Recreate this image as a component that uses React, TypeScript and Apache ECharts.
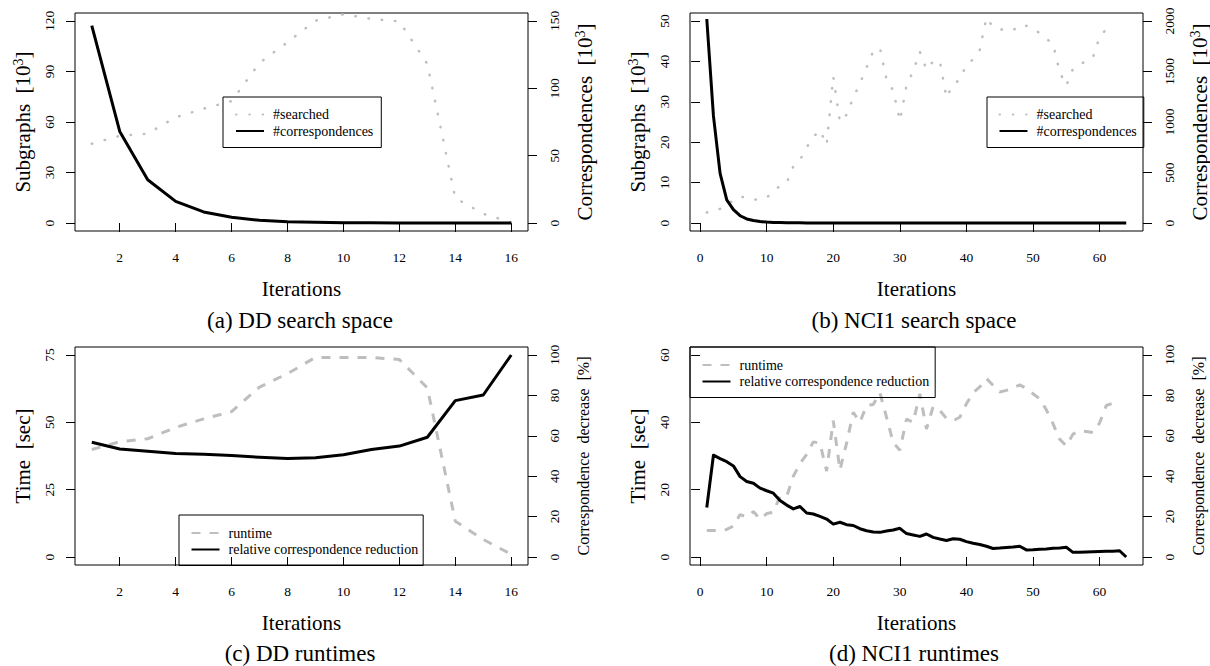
import React, { useEffect, useRef } from 'react';
import * as echarts from 'echarts';

const FONT = '"Liberation Serif", "Times New Roman", serif';
const CAP_FONT = '"Liberation Serif", "Times New Roman", serif';
const GREY = '#bebebe';
const BLACK = '#000000';

// ---- DD (16 iterations) ----
const searchedDD = [47.1, 51.8, 53.1, 62.8, 67.9, 72.4, 95.1, 107.4, 120.2, 124.0, 121.2, 119.8, 94.5, 14.8, 5.5, 0.4];
const corrDD = [146.5, 68, 32.1, 16.1, 8.2, 4.2, 2.0, 1.0, 0.5, 0.25, 0.12, 0.06, 0.03, 0.02, 0.01, 0];
const runtimeDD = [39.9, 42.8, 43.9, 48.1, 51.3, 54.0, 63.1, 68.1, 74.1, 74.1, 74.1, 73.3, 62.8, 13.3, 6.5, 1.0];
const reductionDD = [56.8, 53.5, 52.4, 51.2, 50.9, 50.2, 49.4, 48.8, 49.1, 50.6, 53.2, 54.9, 59.3, 77.4, 80.2, 100];

// ---- NCI1 (64 iterations) ----
const searchedNCI1 = [2.6, 3.0, 3.5, 4.5, 5.6, 6.6, 6.2, 5.7, 6.0, 6.3, 7.8, 9.2, 9.9, 14.0, 15.6, 18.7, 21.3, 23.0, 19.3, 36.2,
  25.0, 26.8, 31.0, 34.5, 38.5, 42.5, 43.3, 35.5, 32.8, 25.3, 34.0, 37.6, 42.4, 38.0, 40.0, 40.2, 31.0, 34.4, 35.4, 39.2,
  40.5, 42.8, 50.8, 48.5, 47.9, 47.8, 47.7, 49.0, 48.8, 48.1, 47.0, 45.6, 44.4, 37.4, 34.0, 38.2, 39.2, 40.1, 41.0, 46.0,
  48.0, 49.0];
const corrNCI1 = [2020, 1060, 492, 228, 132, 72, 40, 24, 14, 9, 6, 4, 3, 2.2, 1.6, 1.2, 1.0, 0.8, 0.7, 0.6,
  0.5, 0.4, 0.35, 0.3, 0.25, 0.2, 0.2, 0.15, 0.15, 0.1, 0.1, 0.1, 0.1, 0.1, 0.1, 0.1, 0.1, 0.1, 0.1, 0.1,
  0.1, 0.1, 0.1, 0.1, 0.1, 0.1, 0.1, 0.1, 0.1, 0.1, 0.1, 0.1, 0.1, 0.1, 0.1, 0.1, 0.1, 0.1, 0.1, 0.1,
  0.1, 0.1, 0.1, 0.1];
const runtimeNCI1 = [7.9, 7.9, 7.9, 8.2, 9.2, 12.6, 11.9, 13.5, 11.2, 12.9, 13.3, 18.0, 18.0, 24.0, 27.8, 30.5, 34.2, 33.8, 25.5, 40.5,
  25.8, 33.8, 43.0, 40.0, 45.0, 45.3, 48.8, 41.5, 34.0, 31.7, 41.0, 40.0, 48.5, 38.0, 44.7, 43.5, 41.2, 40.5, 41.5, 45.5,
  48.8, 50.5, 53.0, 51.0, 49.0, 49.5, 50.2, 51.1, 50.1, 48.5, 47.0, 43.7, 39.6, 35.0, 33.0, 36.5, 37.5, 37.3, 37.0, 39.8,
  45.0, 45.7, 45.3];
const reductionNCI1 = [24.5, 50.4, 48.7, 47.2, 45.1, 39.8, 37.4, 36.5, 34.1, 32.8, 31.6, 28.0, 25.7, 23.8, 25.0, 21.8, 21.3, 20.1, 18.8, 16.3,
  17.2, 16.0, 15.6, 14.0, 13.0, 12.4, 12.2, 12.9, 13.4, 14.2, 11.6, 10.9, 10.2, 11.4, 9.7, 8.9, 8.2, 9.0, 8.8, 7.6,
  6.8, 6.2, 5.3, 4.2, 4.4, 4.7, 4.9, 5.3, 3.5, 3.6, 3.8, 4.0, 4.3, 4.5, 4.8, 2.3, 2.4, 2.5, 2.6, 2.7,
  2.8, 2.9, 3.1, 0.0];

// ---- tick labels ----
const ticksXDD = [2, 4, 6, 8, 10, 12, 14, 16];
const ticksXNCI1 = [0, 10, 20, 30, 40, 50, 60];
const ticksSubgraphsDD = [0, 30, 60, 90, 120];
const ticksCorrDD = [0, 50, 100, 150];
const ticksSubgraphsNCI1 = [0, 10, 20, 30, 40, 50];
const ticksCorrNCI1 = [0, 500, 1000, 1500, 2000];
const ticksTimeDD = [0, 25, 50, 75];
const ticksTimeNCI1 = [0, 20, 40, 60];
const ticksPercent = [0, 20, 40, 60, 80, 100];

const captions = ['(a) DD search space', '(b) NCI1 search space', '(c) DD runtimes', '(d) NCI1 runtimes'];

const pairs = (vals: number[]) => vals.map((v, i) => [i + 1, v]);

const nameRich = {
  n: { fontFamily: FONT, fontSize: 21, color: BLACK, lineHeight: 24 },
  s: { fontFamily: FONT, fontSize: 14, color: BLACK, lineHeight: 14, verticalAlign: 'top' },
  m: { fontFamily: FONT, fontSize: 16, color: BLACK, lineHeight: 18 },
};

const plain = (v: number) => String(v);

function makeX(gridIndex: number, min: number, max: number, ticks: number[]) {
  return {
    type: 'value', gridIndex, min, max,
    name: 'Iterations', nameLocation: 'middle', nameGap: 47, nameMoveOverlap: false,
    nameTextStyle: { fontFamily: FONT, fontSize: 21, color: BLACK },
    axisLine: { show: false },
    axisTick: { show: true, length: 9, customValues: ticks, lineStyle: { color: BLACK, width: 1 } },
    axisLabel: { customValues: ticks, formatter: plain, fontFamily: FONT, fontSize: 13.5, color: BLACK, margin: 19 },
    splitLine: { show: false },
  };
}

function makeY(gridIndex: number, position: string, min: number, max: number, ticks: number[], name: string, nameGap: number) {
  return {
    type: 'value', gridIndex, position, min, max,
    name, nameLocation: 'middle', nameGap, nameRotate: 90, nameMoveOverlap: false,
    nameTextStyle: { rich: nameRich },
    axisLine: { show: false },
    axisTick: { show: true, length: 9, customValues: ticks, lineStyle: { color: BLACK, width: 1 } },
    axisLabel: { customValues: ticks, formatter: plain, rotate: 90, fontFamily: FONT, fontSize: 13.5, color: BLACK, margin: 19 },
    splitLine: { show: false },
  };
}

const dotted = { color: GREY, width: 2.5, type: [0.5, 12.8], cap: 'round' };
const dashed = { color: GREY, width: 3, type: [9, 9], cap: 'butt' };
const solid = { color: BLACK, width: 3, type: 'solid', cap: 'butt', join: 'round' };

function legendOf(names: string[], pos: any, padding: number[]) {
  return {
    data: names, orient: 'vertical', ...pos, padding,
    itemWidth: 28, itemHeight: 14, itemGap: 2.5,
    borderColor: BLACK, borderWidth: 1, borderRadius: 0,
    selectedMode: false,
    itemStyle: { opacity: 0 },
    textStyle: { fontFamily: FONT, fontSize: 14, color: BLACK, padding: [0, 0, 0, 4] },
  };
}

export default function App() {
  const ref = useRef<HTMLDivElement>(null);
  useEffect(() => {
    if (!ref.current) return;
    const chart = echarts.init(ref.current, undefined, { renderer: 'svg' });
    const gridBase = { show: true, borderColor: BLACK, borderWidth: 1, backgroundColor: 'transparent', outerBoundsMode: 'none', containLabel: false };
    const capStyle = { fontFamily: CAP_FONT, fontSize: 23, fill: BLACK, align: 'center', verticalAlign: 'middle' };
    const option: any = {
      animation: false,
      backgroundColor: '#ffffff',
      grid: [
        { ...gridBase, left: 75, top: 13, width: 453, height: 218 },
        { ...gridBase, left: 690, top: 13, width: 453, height: 218 },
        { ...gridBase, left: 75, top: 347, width: 453, height: 218 },
        { ...gridBase, left: 690, top: 347, width: 453, height: 218 },
      ],
      xAxis: [
        makeX(0, 0.4, 16.6, ticksXDD),
        makeX(1, -1.52, 66.52, ticksXNCI1),
        makeX(2, 0.4, 16.6, ticksXDD),
        makeX(3, -1.52, 66.52, ticksXNCI1),
      ],
      yAxis: [
        makeY(0, 'left', -4.75, 124.75, ticksSubgraphsDD, '{n|Subgraphs\u00a0\u00a0[10}{s|3}{n|]}', 40),
        makeY(0, 'right', -5.94, 155.94, ticksCorrDD, '{n|Correspondences\u00a0\u00a0[10}{s|3}{n|]}', 45),
        makeY(1, 'left', -1.98, 51.98, ticksSubgraphsNCI1, '{n|Subgraphs\u00a0\u00a0[10}{s|3}{n|]}', 40),
        makeY(1, 'right', -79.2, 2079.2, ticksCorrNCI1, '{n|Correspondences\u00a0\u00a0[10}{s|3}{n|]}', 45),
        makeY(2, 'left', -2.97, 77.97, ticksTimeDD, '{n|Time\u00a0\u00a0[sec]}', 40),
        makeY(2, 'right', -3.96, 103.96, ticksPercent, '{m|Correspondence\u00a0\u00a0decrease\u00a0\u00a0[%]}', 46),
        makeY(3, 'left', -2.376, 62.376, ticksTimeNCI1, '{n|Time\u00a0\u00a0[sec]}', 40),
        makeY(3, 'right', -3.96, 103.96, ticksPercent, '{m|Correspondence\u00a0\u00a0decrease\u00a0\u00a0[%]}', 46),
      ],
      legend: [
        legendOf(['#searched', '#correspondences'], { left: 223, top: 97 }, [10.5, 8, 9.5, 12]),
        legendOf(['#searched', '#correspondences'], { left: 987, top: 97 }, [10.5, 7, 9.5, 11.5]),
        legendOf(['runtime', 'relative correspondence reduction'], { left: 179, top: 515 }, [11, 5, 9, 11.5]),
        legendOf(['runtime', 'relative correspondence reduction'], { left: 690, top: 347 }, [11, 6, 9, 11.5]),
      ],
      series: [
        { type: 'line', name: '#searched', xAxisIndex: 0, yAxisIndex: 0, data: pairs(searchedDD), symbol: 'none', color: GREY, lineStyle: dotted },
        { type: 'line', name: '#correspondences', xAxisIndex: 0, yAxisIndex: 1, data: pairs(corrDD), symbol: 'none', color: BLACK, lineStyle: solid },
        { type: 'line', name: '#searched', xAxisIndex: 1, yAxisIndex: 2, data: pairs(searchedNCI1), symbol: 'none', color: GREY, lineStyle: dotted },
        { type: 'line', name: '#correspondences', xAxisIndex: 1, yAxisIndex: 3, data: pairs(corrNCI1), symbol: 'none', color: BLACK, lineStyle: solid },
        { type: 'line', name: 'runtime', xAxisIndex: 2, yAxisIndex: 4, data: pairs(runtimeDD), symbol: 'none', color: GREY, lineStyle: dashed },
        { type: 'line', name: 'relative correspondence reduction', xAxisIndex: 2, yAxisIndex: 5, data: pairs(reductionDD), symbol: 'none', color: BLACK, lineStyle: solid },
        { type: 'line', name: 'runtime', xAxisIndex: 3, yAxisIndex: 6, data: pairs(runtimeNCI1), symbol: 'none', color: GREY, lineStyle: dashed },
        { type: 'line', name: 'relative correspondence reduction', xAxisIndex: 3, yAxisIndex: 7, data: pairs(reductionNCI1), symbol: 'none', color: BLACK, lineStyle: solid },
      ],
      graphic: [
        { type: 'text', x: 300, y: 320, style: { text: captions[0], ...capStyle } },
        { type: 'text', x: 914, y: 320, style: { text: captions[1], ...capStyle } },
        { type: 'text', x: 300, y: 653, style: { text: captions[2], ...capStyle } },
        { type: 'text', x: 914, y: 653, style: { text: captions[3], ...capStyle } },
      ],
    };
    chart.setOption(option);
    return () => chart.dispose();
  }, []);
  return <div ref={ref} style={{ position: 'absolute', left: 0, top: 0, width: 1210, height: 666 }} />;
}
